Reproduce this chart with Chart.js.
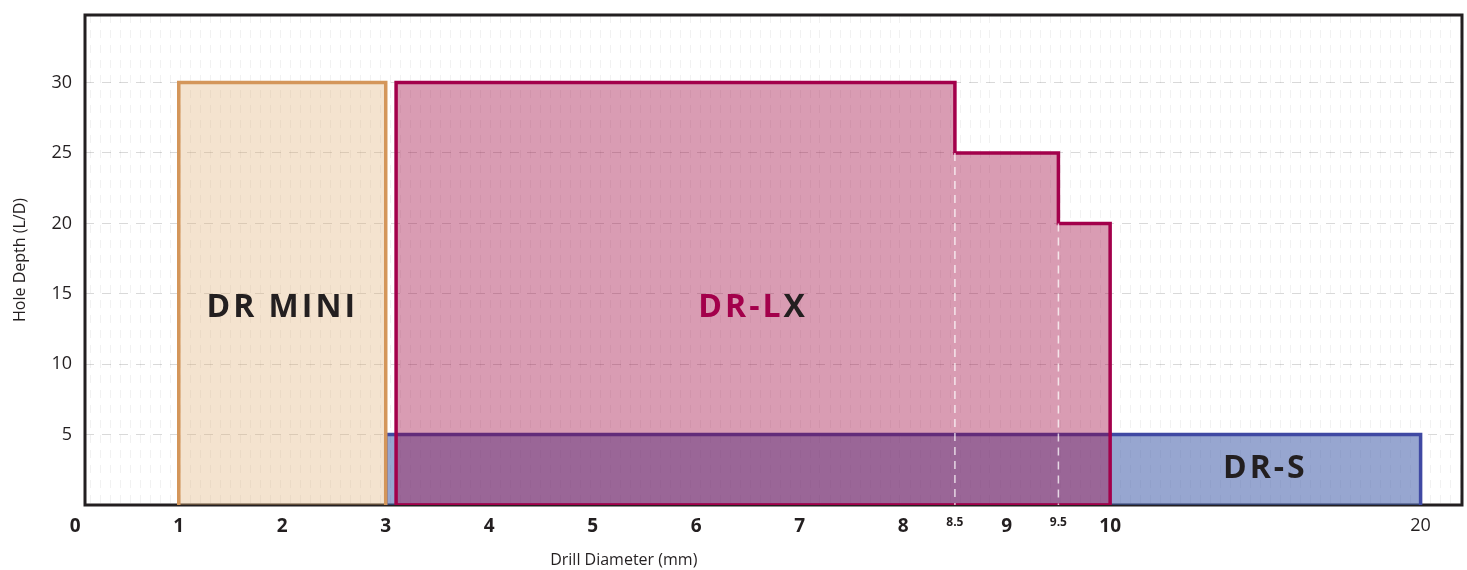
<!DOCTYPE html>
<html>
<head>
<meta charset="utf-8">
<script src="https://cdn.jsdelivr.net/npm/chart.js@4.4.1/dist/chart.umd.min.js"></script>
<style>
html, body { margin: 0; padding: 0; background: #fff; }
#wrap { width: 1467px; height: 570px; }
</style>
</head>
<body>
<div id="wrap"><canvas id="chart"></canvas></div>
<script>
// tick labels
const xTickValues = [0, 1, 2, 3, 4, 5, 6, 7, 8, 8.5, 9, 9.5, 10, 20];
const yTickValues = [5, 10, 15, 20, 25, 30];

// DR MINI: diameter range (mm) and max depth (L/D)
const drMiniRange = [1, 3];
const drMiniDepth = 30;

// DR-LX: diameter breakpoints and the depth of each span between them
const drLxSteps = [3.1, 8.5, 9.5, 10];
const drLxDepths = [30, 25, 20];

// DR-S
const drSRange = [3, 20];
const drSDepth = 5;

// axis is linear up to 10 mm, then squeezed
const BREAK = 10, SQUEEZE = 0.3;
const toAxis = v => v <= BREAK ? v : BREAK + (v - BREAK) * SQUEEZE;

const INK = '#231f20';
const LX_RED = '#a3004b';
const FONT = '"Open Sans", sans-serif';

function boxPoints(range, depth) {
    return [
        { x: toAxis(range[0]), y: 0 },
        { x: toAxis(range[0]), y: depth },
        { x: toAxis(range[1]), y: depth },
        { x: toAxis(range[1]), y: 0 }
    ];
}

function stepPoints(steps, depths) {
    const pts = [{ x: steps[0], y: 0 }];
    depths.forEach((d, i) => {
        pts.push({ x: steps[i], y: d });
        pts.push({ x: steps[i + 1], y: d });
    });
    pts.push({ x: steps[steps.length - 1], y: 0 });
    return pts.map(p => ({ x: toAxis(p.x), y: p.y }));
}

// white dashed guides where DR-LX steps down
const guideSets = drLxSteps.slice(1, -1).map((s, i) => ({
    data: [{ x: toAxis(s), y: drLxDepths[i + 1] }, { x: toAxis(s), y: 0 }],
    showLine: true,
    borderColor: 'rgba(255,255,255,0.75)',
    borderWidth: 1.5,
    borderDash: [8, 6],
    pointRadius: 0,
    fill: false,
    order: 0
}));

const framePlugin = {
    id: 'frame',
    beforeDatasetsDraw(chart) {
        const { ctx, chartArea: a } = chart;
        ctx.save();
        ctx.strokeStyle = INK;
        ctx.lineWidth = 3;
        ctx.strokeRect(a.left, a.top, a.right - a.left, a.bottom - a.top);
        ctx.restore();
    }
};

const namesPlugin = {
    id: 'names',
    afterDatasetsDraw(chart) {
        const { ctx, scales: { x, y } } = chart;
        ctx.save();
        ctx.font = 'bold 32px ' + FONT;
        ctx.letterSpacing = '3px';
        ctx.textBaseline = 'middle';
        ctx.textAlign = 'center';
        ctx.fillStyle = INK;
        ctx.fillText('DR MINI',
            x.getPixelForValue(toAxis((drMiniRange[0] + drMiniRange[1]) / 2)),
            y.getPixelForValue(drMiniDepth / 2 - 1));

        const cx = x.getPixelForValue(toAxis((drLxSteps[0] + drLxSteps[drLxSteps.length - 1]) / 2));
        const cy = y.getPixelForValue(drLxDepths[0] / 2 - 1);
        const wa = ctx.measureText('DR-L').width, wb = ctx.measureText('X').width;
        ctx.textAlign = 'left';
        const x0 = cx - (wa + wb) / 2;
        ctx.fillStyle = LX_RED;
        ctx.fillText('DR-L', x0, cy);
        ctx.fillStyle = INK;
        ctx.fillText('X', x0 + wa, cy);

        ctx.textAlign = 'center';
        ctx.fillText('DR-S',
            x.getPixelForValue(toAxis((BREAK + drSRange[1]) / 2)),
            y.getPixelForValue(drSDepth / 2 + 0.1));
        ctx.restore();
    }
};

const xTitlePlugin = {
    id: 'xTitle',
    afterDraw(chart) {
        const { ctx, scales: { x }, chartArea } = chart;
        ctx.save();
        ctx.font = '16px ' + FONT;
        ctx.fillStyle = INK;
        ctx.textAlign = 'center';
        ctx.textBaseline = 'middle';
        ctx.fillText('Drill Diameter (mm)', x.getPixelForValue(5.3), chartArea.bottom + 55);
        ctx.restore();
    }
};

new Chart(document.getElementById('chart'), {
    type: 'scatter',
    data: {
        datasets: [
            ...guideSets,
            {
                label: 'DR-LX base',
                data: [{ x: toAxis(drLxSteps[0]), y: 0 }, { x: toAxis(drLxSteps[drLxSteps.length - 1]), y: 0 }],
                showLine: true,
                borderColor: LX_RED,
                borderWidth: 3.5,
                pointRadius: 0,
                fill: false,
                order: 1
            },
            {
                label: 'DR-LX',
                data: stepPoints(drLxSteps, drLxDepths),
                showLine: true,
                borderColor: LX_RED,
                borderWidth: 3.5,
                backgroundColor: 'rgba(158,0,60,0.39)',
                fill: 'origin',
                pointRadius: 0,
                order: 1
            },
            {
                label: 'DR MINI',
                data: boxPoints(drMiniRange, drMiniDepth),
                showLine: true,
                borderColor: '#d4965a',
                borderWidth: 3.5,
                backgroundColor: 'rgba(222,170,110,0.33)',
                fill: 'origin',
                pointRadius: 0,
                order: 2
            },
            {
                label: 'DR-S',
                data: boxPoints(drSRange, drSDepth),
                showLine: true,
                borderColor: '#3f49a3',
                borderWidth: 3.5,
                backgroundColor: 'rgba(66,93,170,0.55)',
                fill: 'origin',
                pointRadius: 0,
                order: 3
            }
        ]
    },
    options: {
        responsive: true,
        maintainAspectRatio: false,
        animation: false,
        layout: { padding: { top: 15, right: 5, left: 0, bottom: 0 } },
        plugins: { legend: { display: false }, tooltip: { enabled: false } },
        scales: {
            x: {
                type: 'linear',
                min: 0.094,
                max: 13.4,
                afterBuildTicks: s => { s.ticks = xTickValues.map(v => ({ value: toAxis(v) })); },
                afterFit: s => { s.height = 65; s.paddingLeft = 0; s.paddingRight = 0; },
                grid: { display: false, drawTicks: false },
                border: { display: false },
                ticks: {
                    autoSkip: false,
                    maxRotation: 0,
                    padding: 10,
                    color: INK,
                    font: ctx => {
                        const v = xTickValues[ctx.index];
                        if (v % 1 !== 0) return { family: FONT, size: 12, weight: 'bold' };
                        if (v > BREAK) return { family: FONT, size: 18, weight: 'normal' };
                        return { family: FONT, size: 19, weight: 'bold' };
                    },
                    callback: (val, i) => String(xTickValues[i])
                }
            },
            grain: {
                type: 'linear',
                position: 'top',
                min: 0,
                max: 1377,
                afterBuildTicks: s => {
                    const t = [];
                    for (let v = 5; v < 1377; v += 10) t.push({ value: v });
                    s.ticks = t;
                },
                afterFit: s => { s.height = 0; s.paddingLeft = 0; s.paddingRight = 0; },
                ticks: { display: false },
                grid: { color: 'rgba(0,0,0,0.055)', lineWidth: 1, drawTicks: false },
                border: { display: false, dash: [8, 7] }
            },
            y: {
                min: 0,
                max: 34.8,
                afterBuildTicks: s => { s.ticks = yTickValues.map(v => ({ value: v })); },
                afterFit: s => { s.width = 85; s.paddingTop = 0; s.paddingBottom = 0; },
                grid: { color: 'rgba(0,0,0,0.15)', lineWidth: 1, drawTicks: false },
                border: { display: false, dash: [9, 8] },
                ticks: { padding: 13, color: INK, font: { family: FONT, size: 18 } },
                title: {
                    display: true,
                    text: 'Hole Depth (L/D)',
                    color: INK,
                    font: { family: FONT, size: 16 },
                    padding: { top: 11, bottom: 0 }
                }
            }
        }
    },
    plugins: [framePlugin, namesPlugin, xTitlePlugin]
});
</script>
</body>
</html>
